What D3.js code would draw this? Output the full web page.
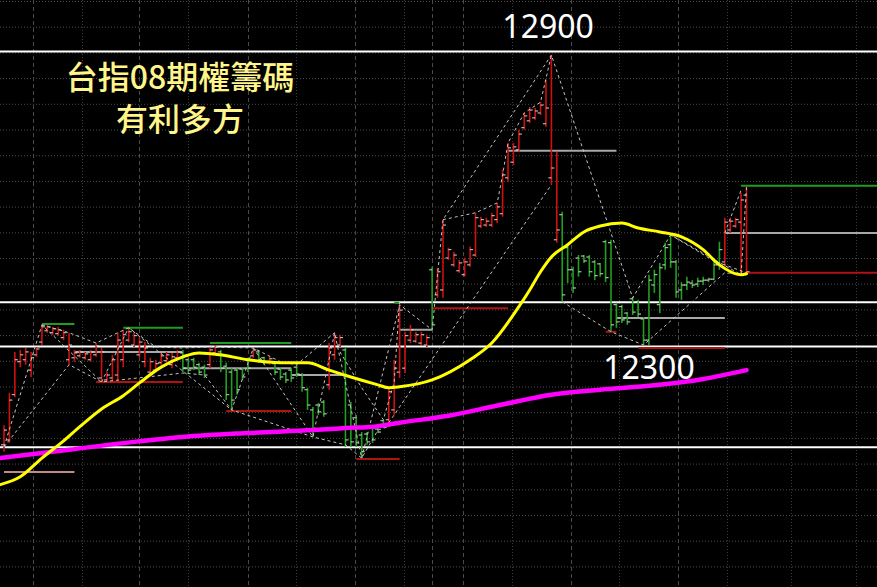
<!DOCTYPE html>
<html><head><meta charset="utf-8">
<script src="https://cdn.jsdelivr.net/npm/d3@7"></script>
<style>html,body{margin:0;padding:0;background:#000;}svg{display:block}</style>
</head><body><svg id="c" width="877" height="587"></svg>
<script>
// ---- data (prices) ----
const highs=[12140,12206,12289,12293,12297,12289,12299,12344,12344,12340,
12340,12334,12328,12293,12293,12289,12293,12307,12297,12248,
12283,12328,12334,12336,12328,12318,12309,12277,12273,12287,
12289,12287,12293,12293,12277,12277,12267,12263,12299,12303,
12293,12267,12256,12256,12258,12277,12297,12293,12279,12279,
12269,12258,12248,12256,12263,12246,12216,12177,12185,12191,
12307,12328,12324,12299,12187,12161,12126,12126,12140,12134,
12151,12218,12273,12385,12330,12344,12330,12330,12324,12462,
12460,12558,12501,12492,12476,12480,12503,12572,12564,12562,
12572,12592,12659,12714,12714,12741,12775,12787,12785,12797,
12842,12893,12696,12574,12507,12462,12486,12486,12486,12476,
12470,12517,12517,12389,12385,12370,12401,12395,12360,12446,
12456,12470,12511,12527,12476,12431,12442,12435,12440,12442,
12440,12476,12513,12562,12562,12562,12612,12625];
const lows=[12086,12104,12197,12258,12263,12238,12279,12303,12328,12324,
12322,12313,12263,12269,12277,12273,12269,12279,12228,12228,
12228,12228,12258,12309,12299,12277,12258,12242,12248,12263,
12267,12256,12273,12248,12246,12252,12242,12236,12256,12283,
12248,12191,12171,12202,12232,12248,12277,12267,12263,12263,
12242,12232,12226,12228,12238,12208,12171,12116,12161,12157,
12212,12273,12299,12096,12096,12096,12073,12100,12104,12124,
12134,12145,12161,12236,12246,12307,12307,12303,12299,12334,
12399,12399,12476,12462,12450,12442,12462,12482,12541,12543,
12543,12551,12564,12635,12669,12696,12741,12755,12761,12771,
12747,12629,12511,12391,12429,12409,12442,12470,12442,12435,
12442,12431,12330,12338,12348,12344,12364,12360,12303,12303,
12409,12368,12456,12460,12399,12395,12415,12419,12421,12425,
12431,12435,12456,12462,12531,12541,12450,12446];
const opens=[12100,12110,12202,12269,12273,12252,12283,12309,12332,12328,
12326,12318,12273,12277,12281,12277,12273,12283,12236,12232,
12236,12242,12273,12313,12303,12283,12269,12248,12252,12267,
12271,12263,12277,12287,12273,12273,12263,12258,12263,12287,
12289,12260,12248,12252,12254,12273,12281,12289,12277,12267,
12265,12254,12244,12252,12258,12242,12212,12171,12181,12187,
12222,12283,12303,12293,12181,12155,12120,12122,12134,12132,
12149,12151,12171,12248,12256,12313,12311,12307,12303,12456,
12405,12415,12480,12466,12454,12446,12466,12486,12545,12547,
12547,12558,12570,12643,12675,12700,12745,12759,12765,12775,
12753,12643,12517,12568,12501,12456,12480,12484,12482,12472,
12468,12513,12511,12385,12381,12368,12397,12391,12356,12313,
12425,12385,12466,12507,12472,12415,12425,12429,12427,12433,
12435,12437,12466,12472,12537,12545,12553,12608];
const closes=[12130,12191,12273,12283,12289,12277,12295,12340,12340,12336,
12334,12328,12303,12287,12289,12285,12289,12301,12289,12242,
12273,12313,12324,12330,12322,12309,12297,12269,12265,12281,
12283,12279,12289,12256,12252,12258,12248,12242,12293,12299,
12256,12202,12191,12212,12238,12256,12293,12273,12267,12275,
12248,12238,12232,12236,12244,12216,12181,12130,12167,12163,
12297,12318,12318,12110,12106,12104,12086,12106,12110,12126,
12137,12208,12256,12374,12322,12334,12324,12324,12318,12344,
12452,12547,12497,12486,12470,12472,12497,12562,12558,12555,
12566,12584,12649,12704,12706,12732,12769,12781,12779,12791,
12785,12663,12537,12405,12456,12419,12452,12474,12452,12444,
12448,12440,12344,12350,12354,12350,12370,12366,12313,12435,
12446,12460,12501,12472,12411,12425,12431,12425,12433,12435,
12437,12466,12497,12553,12555,12558,12598,12452];
// 1 = red (up trend), 0 = green (down trend)
const trend=[1,1,1,1,1,1,1,1,1,1, 1,1,1,1,1,1,1,1,1,1, 1,1,1,1,1,1,1,1,1,1,
1,1,1,0,0,0,0,0,1,1, 0,0,0,0,0,0,1,0,0,1, 0,0,0,0,0,0,0,0,0,0,
1,1,1,0,0,0,0,0,0,0, 0,1,1,1,1,1,1,1,1,0, 1,1,1,1,1,1,1,1,1,1,
1,1,1,1,1,1,1,1,1,1, 1,1,1,0,0,0,0,0,0,0, 0,0,0,0,0,0,0,0,0,0,
0,0,0,0,0,0,0,0,0,0, 0,0,0,1,1,1,1,1];

// moving averages [barIndex, price]
const maFast=[[-0.7,12019],[3,12035],[7,12073],[11,12108],[14,12137],[18,12173],[22,12200],[25,12226],[29,12258],[33,12279],[36,12287],[40,12283],[45,12273],[51,12267],[56,12267],[60,12252],[64,12238],[69,12222],[71,12216],[73,12218],[79,12232],[86,12273],[90,12307],[95,12381],[97,12415],[99,12452],[101,12482],[104,12507],[107,12533],[110,12545],[114,12551],[117,12541],[121,12533],[125,12523],[129,12497],[132,12466],[136,12446],[137,12448]];
const maSlow=[[-0.7,12073],[12,12090],[24,12106],[33,12116],[45,12124],[57,12130],[63,12134],[69,12138],[73,12145],[82,12159],[91.5,12181],[101,12202],[110,12212],[119,12220],[128,12232],[137,12252]];

// horizontal key levels
const keyLevels=[12900,12390,12300,12095];
const keyLabels=[{text:"12900",price:12900,idx:100.4,dy:-14},{text:"12300",price:12300,idx:119,dy:32}];

// swing level segments [price, fromIdx, toIdx, kind]
const swingLevels=[[12045,0,13,"pink"],[12346,7,13,"hi"],[12289,13,33,"mid"],[12338,22,33,"hi"],[12228,17,33,"lo"],
[12256,33,53,"mid"],[12307,38,53,"hi"],[12169,41,53,"lo"],[12242,53,63,"mid"],[12071,65,73,"lo"],[12389,72,73,"hi"],
[12334,73,79,"mid"],[12378,79,93,"lo"],[12698,93,113,"mid"],[12330,111,113,"lo"],[12358,113,133,"mid"],[12297,117,133,"lo"],
[12627,136,170,"hi"],[12531,133,170,"mid"],[12450,137,170,"lo"]];

// dashed swing lines [barIndex, price]
const zzSwing=[[0,12096],[7,12344],[18,12228],[23,12338],[42,12171],[46,12297],[57,12116],[61,12328],[66,12073],[73,12385],[79,12334],[81,12558],[101,12893],[116,12399],[123,12527],[136,12446],[137,12625]];
const zzHighs=[[7,12344],[12,12328],[17,12307],[21,12328],[23,12338],[28,12299],[33,12297],[38,12299],[46,12297],[51,12269],[54,12263],[61,12328]];
const zzHighs2=[[81,12558],[87,12572],[91,12592],[92,12649],[93,12714],[96,12775],[99,12797],[101,12893]];
const zzLows=[[0,12096],[12,12263],[18,12228],[33,12246],[37,12242],[42,12171],[57,12116],[63,12100],[66,12073],[69,12130],[73,12145]];
const zzLong=[[71,12145],[101,12629]];
const zzLows2=[[103,12391],[112,12330],[118,12303],[133,12450],[137,12446]];
const zzMisc=[[123,12527],[131,12474],[137,12450]];
const zzMisc2=[[133,12531],[136,12618]];
const zzMisc3=[[62,12289],[66,12216],[70,12151],[72,12228],[73,12395]];

const gridMajorIdx=[5.3,25,45,64.8,79,84.6,104.6,124.4];
const gridMinorIdx=[14.3,33.9,53.9,73.8,93.8,113.4,133.4,145.3,157.2];

const titleLines=["台指08期權籌碼","有利多方"];

// ---- drawing ----
const W=877,H=587;
const svg=d3.select("#c");
svg.append("rect").attr("width",W).attr("height",H).attr("fill","#000");
const x=d3.scaleLinear().domain([0,137]).range([4,746.5]);
const y=d3.scaleLinear().domain([12900,12300]).range([51.5,346.5]);

// grid
const g=svg.append("g");
d3.range(1,H,25.7).forEach(yy=>{
  g.append("line").attr("x1",0).attr("x2",W).attr("y1",yy+0.5).attr("y2",yy+0.5)
   .attr("stroke","#4a4a4a").attr("stroke-dasharray","1,2");
});
gridMajorIdx.forEach(i=>{const xx=Math.round(x(i))+0.5;
  g.append("line").attr("x1",xx).attr("x2",xx).attr("y1",0).attr("y2",H).attr("stroke","#4a4a4a").attr("stroke-dasharray","4,3");});
gridMinorIdx.forEach(i=>{const xx=Math.round(x(i))+0.5;
  g.append("line").attr("x1",xx).attr("x2",xx).attr("y1",0).attr("y2",H).attr("stroke","#3c3c3c").attr("stroke-dasharray","1,2");});

// key levels
keyLevels.forEach(p=>svg.append("line").attr("x1",0).attr("x2",W).attr("y1",y(p)).attr("y2",y(p))
  .attr("stroke","#fff").attr("stroke-width",2));

// swing levels
const lvColor={hi:"#1e9e1e",lo:"#b01212",mid:"#a8a8a8",pink:"#c48a8a"};
swingLevels.forEach(([p,a,b,k])=>svg.append("line").attr("x1",x(a)).attr("x2",Math.min(W,x(b)))
  .attr("y1",y(p)).attr("y2",y(p)).attr("stroke",lvColor[k]).attr("stroke-width",2));

// bars
const bars=svg.append("g");
highs.forEach((h,i)=>{
  const c=trend[i]?"#d01010":"#1fa01f";
  const xx=x(i);
  bars.append("line").attr("x1",xx).attr("x2",xx).attr("y1",y(h)).attr("y2",y(lows[i]))
    .attr("stroke",c).attr("stroke-width",1.6);
  bars.append("line").attr("x1",xx-3).attr("x2",xx).attr("y1",y(opens[i])).attr("y2",y(opens[i]))
    .attr("stroke","#d8d8d8").attr("stroke-width",1);
  bars.append("line").attr("x1",xx).attr("x2",xx+3).attr("y1",y(closes[i])).attr("y2",y(closes[i]))
    .attr("stroke","#d8d8d8").attr("stroke-width",1);
});

// dashed swing lines
const ln=d3.line().x(d=>x(d[0])).y(d=>y(d[1]));
[zzSwing,zzHighs,zzHighs2,zzLows,zzLong,zzLows2,zzMisc,zzMisc2,zzMisc3].forEach(arr=>
  svg.append("path").attr("d",ln(arr)).attr("fill","none").attr("stroke","#c4c4c4")
   .attr("stroke-width",1).attr("stroke-dasharray","3,3"));

// moving averages
const sm=d3.line().x(d=>x(d[0])).y(d=>y(d[1])).curve(d3.curveMonotoneX);
svg.append("path").attr("d",sm(maSlow)).attr("fill","none").attr("stroke","#ff00ff").attr("stroke-width",4.5).attr("stroke-linecap","round");
svg.append("path").attr("d",sm(maFast)).attr("fill","none").attr("stroke","#ffff00").attr("stroke-width",3).attr("stroke-linecap","round");

// labels
keyLabels.forEach(l=>svg.append("text").attr("x",x(l.idx)).attr("y",y(l.price)+l.dy)
  .attr("text-anchor","middle").attr("fill","#fff").attr("font-family","'Noto Sans','Open Sans',sans-serif")
  .attr("font-size",32).text(l.text));

titleLines.forEach((t,k)=>svg.append("text").attr("x",180).attr("y",89+k*42).attr("text-anchor","middle")
  .attr("fill","#fff58a").attr("font-family","'Noto Sans CJK TC','Noto Sans CJK SC',sans-serif")
  .attr("font-weight",500).attr("font-size",32).text(t));
</script></body></html>
